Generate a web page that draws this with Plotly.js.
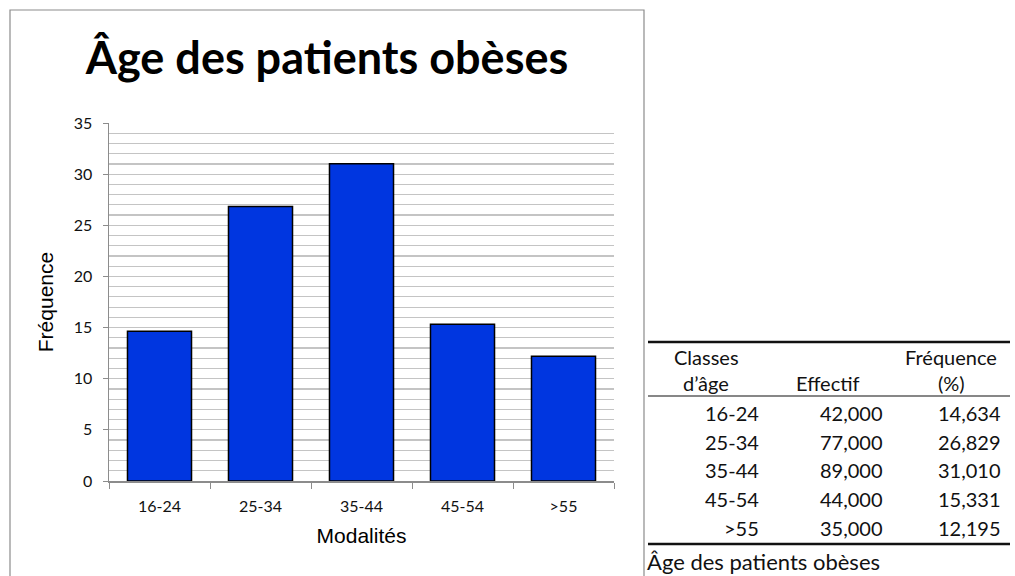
<!DOCTYPE html>
<html>
<head>
<meta charset="utf-8">
<script src="https://cdn.plot.ly/plotly-3.0.1.min.js"></script>
<style>html,body{margin:0;padding:0;background:#fff;}#chart{width:1015px;height:576px;}</style>
</head>
<body>
<div id="chart"></div>
<script>
const categories = ['16-24', '25-34', '35-44', '45-54', '>55'];
const effectif = [42, 77, 89, 44, 35];
const frequence = [14.634, 26.829, 31.010, 15.331, 12.195];
const chartTitle = 'Âge des patients obèses';
const tableHeaders = [['Classes', "d’âge"], ['', 'Effectif'], ['Fréquence', '(%)']];
const tableCaption = 'Âge des patients obèses';

const fmt = v => v.toFixed(3).replace('.', ',');

// pixel -> paper helpers (plot area: x 109..614, y 123..481)
const L = 109, R = 614, T = 123, B = 481;
const px = x => (x - L) / (R - L);
const py = y => (B - y) / (B - T);

const FONT = 'Lato, "Open Sans", sans-serif';
const tableFont = {family: FONT, size: 20, color: '#111'};
const annotations = [];
const shapes = [];

// chart border
shapes.push({type: 'path', xref: 'paper', yref: 'paper',
  path: `M ${px(10)} ${py(590)} L ${px(10)} ${py(10)} L ${px(644)} ${py(10)} L ${px(644)} ${py(590)}`,
  line: {color: '#8c8c8c', width: 1.2}});

// table lines
shapes.push({type: 'line', xref: 'paper', yref: 'paper', x0: px(648), x1: px(1010), y0: py(342), y1: py(342), line: {color: '#111', width: 2.5}});
shapes.push({type: 'line', xref: 'paper', yref: 'paper', x0: px(648), x1: px(1010), y0: py(396), y1: py(396), line: {color: '#111', width: 1.2}});
shapes.push({type: 'line', xref: 'paper', yref: 'paper', x0: px(648), x1: px(1010), y0: py(544), y1: py(544), line: {color: '#111', width: 2.5}});

// headers (centred in their columns)
const hdrX = [706, 828, 951];
tableHeaders.forEach((h, i) => {
  [357, 383].forEach((yy, j) => {
    if (h[j]) annotations.push({xref: 'paper', yref: 'paper', x: px(hdrX[i]), y: py(yy),
      xanchor: 'center', yanchor: 'middle', text: h[j], showarrow: false, font: tableFont});
  });
});
// rows
categories.forEach((c, i) => {
  const yy = 413 + i * 28.7;
  annotations.push({xref: 'paper', yref: 'paper', x: px(761), y: py(yy), xanchor: 'right', yanchor: 'middle', text: c.replace('>', '&gt;'), showarrow: false, font: tableFont});
  annotations.push({xref: 'paper', yref: 'paper', x: px(885), y: py(yy), xanchor: 'right', yanchor: 'middle', text: fmt(effectif[i]), showarrow: false, font: tableFont});
  annotations.push({xref: 'paper', yref: 'paper', x: px(1003), y: py(yy), xanchor: 'right', yanchor: 'middle', text: fmt(frequence[i]), showarrow: false, font: tableFont});
});
annotations.push({xref: 'paper', yref: 'paper', x: px(645), y: py(561), xanchor: 'left', yanchor: 'middle', text: tableCaption, showarrow: false, font: {family: FONT, size: 22, color: '#111'}});

const trace = {
  type: 'bar', x: categories, y: frequence,
  marker: {color: '#0036e0', line: {color: '#000', width: 1.5}},
  hoverinfo: 'x+y'
};

const layout = {
  width: 1015, height: 576,
  margin: {l: L, r: 1015 - R, t: T, b: 576 - B, pad: 0},
  paper_bgcolor: '#fff', plot_bgcolor: '#fff',
  showlegend: false,
  bargap: 0.366,
  title: {text: '<b>' + chartTitle + '</b>', xref: 'container', yref: 'container',
    x: 327 / 1015, y: 1 - 58 / 576, xanchor: 'center', yanchor: 'middle',
    font: {family: FONT, size: 45, color: '#000'}},
  xaxis: {
    type: 'category', showline: true, linecolor: '#8c8c8c', linewidth: 1.5,
    ticks: 'outside', tickson: 'boundaries', ticklen: 6, tickcolor: '#8c8c8c', tickwidth: 1,
    ticklabelstandoff: 10,
    showgrid: false, zeroline: false,
    tickfont: {family: FONT, size: 16, color: '#111'},
    title: {text: 'Modalités', standoff: 14, font: {family: '"Liberation Sans", Arial, sans-serif', size: 21, color: '#000'}}
  },
  yaxis: {
    range: [0, 35], dtick: 5, tick0: 0,
    showline: true, linecolor: '#8c8c8c', linewidth: 1.5,
    ticks: 'outside', ticklen: 5, tickcolor: '#8c8c8c', tickwidth: 1,
    ticklabelstandoff: 7,
    showgrid: true, gridcolor: '#c4c4c4', gridwidth: 1.2,
    minor: {dtick: 1, showgrid: true, gridcolor: '#c4c4c4', gridwidth: 1.2, ticks: ''},
    zeroline: false,
    tickfont: {family: FONT, size: 16, color: '#111'},
    title: {text: 'Fréquence', standoff: 14, font: {family: '"Liberation Sans", Arial, sans-serif', size: 21, color: '#000'}}
  },
  shapes: shapes,
  annotations: annotations
};

Plotly.newPlot('chart', [trace], layout, {displayModeBar: false, staticPlot: true});
</script>
</body>
</html>
